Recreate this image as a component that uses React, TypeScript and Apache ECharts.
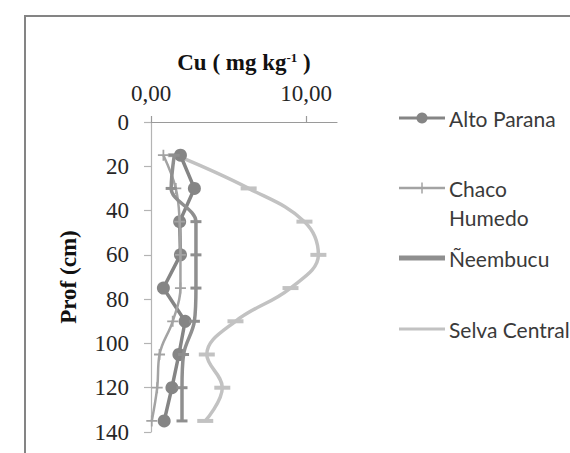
import React, { useEffect, useRef } from 'react';
import * as echarts from 'echarts';

// ---- data ----
const depths = [15, 30, 45, 60, 75, 90, 105, 120, 135];
const altoParana = [1.9, 2.8, 1.85, 1.9, 0.8, 2.2, 1.8, 1.35, 0.85];
const chacoHumedo = [0.8, 1.6, 1.85, 1.9, 1.9, 1.4, 0.55, 0.4, 0.05];
const neembucu = [1.5, 1.3, 2.9, 2.9, 2.9, 2.8, 2.1, 2.0, 2.0];
const selvaCentral = [1.6, 6.3, 9.9, 10.8, 9.0, 5.45, 3.6, 4.6, 3.5];
const seriesNames = ['Alto Parana', 'Chaco Humedo', 'Ñeembucu', 'Selva Central'];
const legendLabels = [['Alto Parana'], ['Chaco', 'Humedo'], ['Ñeembucu'], ['Selva Central']];
const xTicks = [0, 10];
const xMax = 12;
const yMin = 0;
const yMax = 140;
const yInterval = 20;

const SERIF = '"Liberation Serif", "Times New Roman", serif';
const SANS = 'Lato, "Open Sans", sans-serif';

const colors = ['#858585', '#a3a3a3', '#8f8f8f', '#c2c2c2'];

const toPairs = (vals: number[]) => vals.map((v, i) => [v, depths[i]]);

const plusPath = 'path://M4.2,0H5.8V4.2H10V5.8H5.8V10H4.2V5.8H0V4.2H4.2Z';

export default function App() {
  const ref = useRef<HTMLDivElement>(null);
  useEffect(() => {
    document.body.style.margin = '0';
    if (!ref.current) return;
    const chart = echarts.init(ref.current, null, { renderer: 'svg' });

    const legX0 = 399;
    const legX1 = 445;
    const legTextX = 449;
    const legY = [118, 188, 258, 329];
    const lineH = 29;

    const legendGraphics: any[] = [];
    const lineWidths = [3, 2.5, 5, 3];
    seriesNames.forEach((_, i) => {
      legendGraphics.push({
        type: 'line',
        shape: { x1: legX0, y1: legY[i], x2: legX1, y2: legY[i] },
        style: { stroke: colors[i], lineWidth: lineWidths[i] },
        silent: true,
      });
      legendLabels[i].forEach((t, k) => {
        legendGraphics.push({
          type: 'text',
          x: legTextX,
          y: legY[i] + k * lineH,
          style: {
            text: t,
            font: `21px ${SANS}`,
            fill: '#3a3a3a',
            textAlign: 'left',
            textVerticalAlign: 'middle',
          },
          silent: true,
        });
      });
    });
    legendGraphics.push({
      type: 'circle',
      shape: { cx: (legX0 + legX1) / 2, cy: legY[0], r: 5.5 },
      style: { fill: colors[0] },
      silent: true,
    });
    legendGraphics.push({
      type: 'line',
      shape: { x1: (legX0 + legX1) / 2, y1: legY[1] - 5.5, x2: (legX0 + legX1) / 2, y2: legY[1] + 5.5 },
      style: { stroke: colors[1], lineWidth: 1.5 },
      silent: true,
    });
    legendGraphics.push({
      type: 'rect',
      shape: { x: 25, y: 16, width: 620, height: 520 },
      style: { fill: 'none', stroke: '#848484', lineWidth: 2 },
      silent: true,
      z: -1,
    });

    chart.setOption({
      animation: false,
      backgroundColor: '#ffffff',
      grid: { left: 151, right: 233, top: 122, bottom: 21, outerBoundsMode: 'none', containLabel: false },
      xAxis: {
        type: 'value',
        position: 'top',
        min: 0,
        max: xMax,
        interval: 10,
        name: '{b|Cu ( mg kg}{s|-1}{b| )}',
        nameLocation: 'middle',
        nameGap: 48,
        nameTextStyle: {
          rich: {
            b: { fontFamily: SERIF, fontWeight: 'bold', fontSize: 23, color: '#111' },
            s: { fontFamily: SERIF, fontWeight: 'bold', fontSize: 13, color: '#111', verticalAlign: 'top', lineHeight: 14 },
          },
        },
        axisLine: { show: true, lineStyle: { color: '#9a9a9a', width: 1.2 } },
        axisTick: { show: true, customValues: xTicks, length: 6, inside: false, lineStyle: { color: '#9a9a9a', width: 1.2 } },
        axisLabel: {
          customValues: xTicks,
          margin: 17,
          fontFamily: SERIF,
          fontSize: 23,
          color: '#262626',
          formatter: (v: number) => v.toFixed(2).replace('.', ','),
        },
        splitLine: { show: false },
      },
      yAxis: {
        type: 'value',
        inverse: true,
        min: yMin,
        max: yMax,
        interval: yInterval,
        name: 'Prof (cm)',
        nameLocation: 'middle',
        nameGap: 71,
        nameTextStyle: { fontFamily: SERIF, fontWeight: 'bold', fontSize: 23, color: '#111' },
        axisLine: { show: true, onZero: false, lineStyle: { color: '#b4b4b4', width: 1.2 } },
        axisTick: { show: true, length: 7, inside: false, lineStyle: { color: '#b4b4b4', width: 1.2 } },
        axisLabel: { margin: 22, fontFamily: SERIF, fontSize: 23, color: '#262626' },
        splitLine: { show: false },
      },
      series: [
        {
          name: seriesNames[0],
          type: 'line',
          data: toPairs(altoParana),
          smooth: false,
          symbol: 'circle',
          symbolSize: 13,
          lineStyle: { color: colors[0], width: 3.5 },
          itemStyle: { color: colors[0] },
          z: 2,
        },
        {
          name: seriesNames[1],
          type: 'line',
          data: toPairs(chacoHumedo),
          smooth: 0.4,
          symbol: plusPath,
          symbolSize: 11,
          lineStyle: { color: colors[1], width: 2.5 },
          itemStyle: { color: colors[1] },
          z: 3,
        },
        {
          name: seriesNames[2],
          type: 'line',
          data: toPairs(neembucu),
          smooth: 0.35,
          symbol: 'rect',
          symbolSize: [11, 3],
          lineStyle: { color: colors[2], width: 3.5 },
          itemStyle: { color: colors[2] },
          z: 3,
        },
        {
          name: seriesNames[3],
          type: 'line',
          data: toPairs(selvaCentral),
          smooth: 0.4,
          symbol: 'rect',
          symbolSize: [16, 4],
          lineStyle: { color: colors[3], width: 3.5 },
          itemStyle: { color: colors[3] },
          z: 1,
        },
      ],
      graphic: legendGraphics,
    });
    return () => chart.dispose();
  }, []);
  return <div ref={ref} style={{ width: 570, height: 453 }} />;
}
